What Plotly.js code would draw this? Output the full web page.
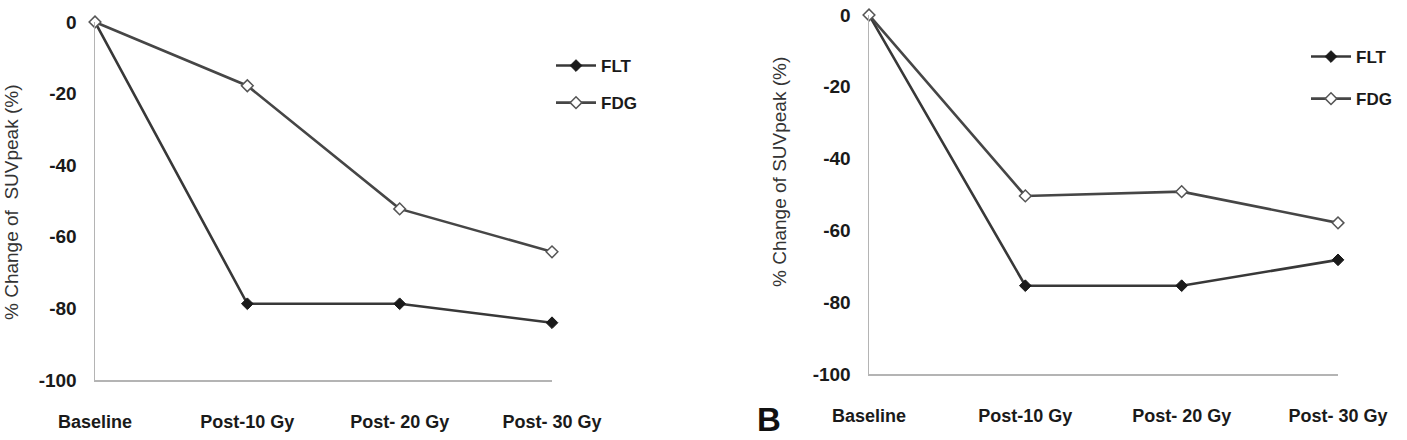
<!DOCTYPE html>
<html>
<head>
<meta charset="utf-8">
<script src="https://cdn.plot.ly/plotly-3.0.1.min.js"></script>
<style>
  html, body { margin: 0; padding: 0; background: #fff; }
  #chart { width: 1407px; height: 440px; }
</style>
</head>
<body>
<div id="chart"></div>
<script>
// Time points of the imaging schedule
const timepoints = ["Baseline", "Post-10 Gy", "Post- 20 Gy", "Post- 30 Gy"];

// Panel A: % change of SUVpeak
const fltA = [0, -78.7, -78.7, -84.0];
const fdgA = [0, -17.8, -52.2, -64.2];

// Panel B: % change of SUVpeak
const fltB = [0, -75.4, -75.4, -68.2];
const fdgB = [0, -50.4, -49.2, -57.9];

const yTicks = [0, -20, -40, -60, -80, -100];
const yTitleA = "% Change of\u00a0\u00a0SUVpeak (%)";
const yTitleB = "% Change of SUVpeak (%)";
const panelLabel = "B";

const W = 1407, H = 440;
const px = v => v / W;
const py = v => (H - v) / H;

const lineDark = "#383838";
const lineGray = "#464646";

function fltTrace(y, xa, ya, lg) {
  return {
    x: timepoints, y: y, xaxis: xa, yaxis: ya, name: "FLT",
    type: "scatter", mode: "lines+markers", cliponaxis: false,
    legend: lg, legendgroup: lg + "flt",
    line: { color: lineDark, width: 2.6 },
    marker: { symbol: "diamond", size: 9, color: "#1a1a1a", line: { color: "#1a1a1a", width: 1 } }
  };
}
function fdgTrace(y, xa, ya, lg) {
  return {
    x: timepoints, y: y, xaxis: xa, yaxis: ya, name: "FDG",
    type: "scatter", mode: "lines+markers", cliponaxis: false,
    legend: lg, legendgroup: lg + "fdg",
    line: { color: lineGray, width: 2.6 },
    marker: { symbol: "diamond", size: 9, color: "#ffffff", line: { color: "#555555", width: 1.5 } }
  };
}

const data = [
  fltTrace(fltA, "x", "y", "legend"),
  fdgTrace(fdgA, "x", "y", "legend"),
  fltTrace(fltB, "x2", "y2", "legend2"),
  fdgTrace(fdgB, "x2", "y2", "legend2")
];

const tickFontY = { family: "Liberation Sans, Arial, sans-serif", size: 19, color: "#1a1a1a", weight: "bold" };
const tickFontX = { family: "Liberation Sans, Arial, sans-serif", size: 18, color: "#1a1a1a", weight: "bold" };

function xAxis(domain, anchor) {
  return {
    domain: domain, anchor: anchor, type: "category",
    categoryorder: "array", categoryarray: timepoints,
    range: [0, 3], showgrid: false, zeroline: false,
    showline: true, linecolor: "#b4b4b4", linewidth: 1.5,
    ticks: "outside", ticklen: 25, tickcolor: "rgba(0,0,0,0)",
    tickfont: tickFontX, fixedrange: true
  };
}
function yAxis(domain, anchor) {
  return {
    domain: domain, anchor: anchor, range: [-100, 0],
    tickmode: "array", tickvals: yTicks, ticktext: yTicks.map(String),
    showgrid: false, zeroline: false,
    showline: true, linecolor: "#b4b4b4", linewidth: 1.5,
    ticks: "outside", ticklen: 13, tickcolor: "rgba(0,0,0,0)",
    tickfont: tickFontY, fixedrange: true
  };
}

const legendFont = { family: "Liberation Sans, Arial, sans-serif", size: 17, color: "#1a1a1a", weight: "bold" };
const titleFont = { family: "Liberation Sans, Arial, sans-serif", size: 19, color: "#333333" };

const layout = {
  width: W, height: H,
  margin: { l: 0, r: 0, t: 0, b: 0 },
  paper_bgcolor: "#ffffff", plot_bgcolor: "#ffffff",
  showlegend: true,
  xaxis: xAxis([px(95), px(552)], "y"),
  yaxis: yAxis([60 / H, 418 / H], "x"),
  xaxis2: xAxis([px(869), px(1338)], "y2"),
  yaxis2: yAxis([66 / H, 425 / H], "x2"),
  legend: {
    x: px(551), y: py(48), xanchor: "left", yanchor: "top",
    bgcolor: "rgba(0,0,0,0)", font: legendFont,
    tracegroupgap: 12, itemwidth: 40, traceorder: "grouped"
  },
  legend2: {
    x: px(1306), y: py(39), xanchor: "left", yanchor: "top",
    bgcolor: "rgba(0,0,0,0)", font: legendFont,
    tracegroupgap: 17, itemwidth: 40, traceorder: "grouped"
  },
  annotations: [
    {
      text: yTitleA, xref: "paper", yref: "paper",
      x: px(11), y: py(202), xanchor: "center", yanchor: "middle",
      textangle: -90, showarrow: false, font: titleFont
    },
    {
      text: yTitleB, xref: "paper", yref: "paper",
      x: px(780), y: py(172), xanchor: "center", yanchor: "middle",
      textangle: -90, showarrow: false, font: titleFont
    },
    {
      text: panelLabel, xref: "paper", yref: "paper",
      x: px(755), y: 0, xanchor: "left", yanchor: "bottom",
      showarrow: false,
      font: { family: "Liberation Sans, Arial, sans-serif", size: 33, color: "#111111", weight: "bold" }
    }
  ]
};

Plotly.newPlot("chart", data, layout, { staticPlot: true, displayModeBar: false });
</script>
</body>
</html>
